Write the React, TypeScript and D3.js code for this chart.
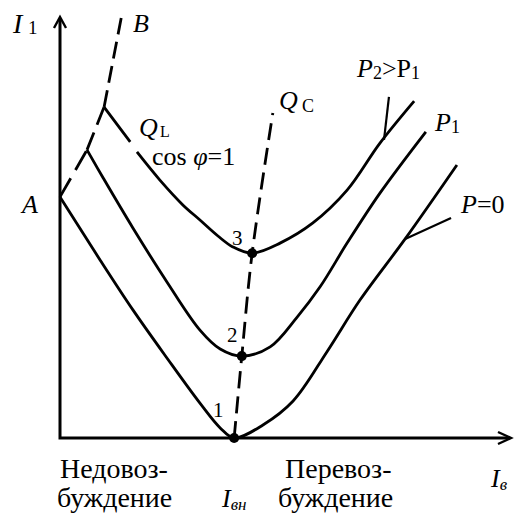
import React from 'react';
import * as d3 from 'd3';

const W = 523;
const H = 525;

// V-curves of a synchronous machine: stator current I1 against field current Iв,
// one curve per active-power level. Units are arbitrary (0..10 on both axes).
const curveP0: ([number, number] | null)[] = [
  [0, 5.74], [0.89, 4.24], [1.62, 3.05], [2.38, 1.9], [3.11, 0.83], [3.56, 0.24], [3.87, 0],
  [4.51, 0.31], [5.18, 0.88], [5.93, 2.05], [6.67, 3.29], [7.67, 4.74], [8.82, 6.5],
];
const curveP1: ([number, number] | null)[] = [
  [0.6, 6.86], [0.96, 6.19], [1.62, 5.0], [2.38, 3.71], [3.11, 2.57], [3.56, 2.12], [4.04, 1.95],
  [4.67, 2.17], [5.27, 2.88], [5.78, 3.6], [6.38, 4.64], [7.11, 5.83], [8.13, 7.29],
];
// null marks the break in the line next to the Q_L / cos φ=1 labels
const curveP2: ([number, number] | null)[] = [
  [0.98, 7.88], [1.56, 7.05], null, [1.71, 6.81], [2.22, 6.14], [2.73, 5.55], [3.11, 5.19],
  [3.51, 4.81], [3.84, 4.55], [4.27, 4.4], [4.89, 4.64], [5.62, 5.12], [6.38, 5.9], [7.11, 7.02],
  [7.87, 8.02],
];

// Boundary A–B (stability limit) and the cos φ = 1 locus through the minima
const limitAB: [number, number][] = [[0, 5.74], [0.6, 6.86], [0.98, 7.88], [1.36, 10.0]];
const unityPF: [number, number][] = [[3.87, 0], [4.04, 1.95], [4.27, 4.4], [4.73, 7.74]];
// minima of the three curves (points 1, 2, 3)
const minima: { label: string; p: [number, number] }[] = [
  { label: '1', p: [3.87, 0] },
  { label: '2', p: [4.04, 1.95] },
  { label: '3', p: [4.27, 4.4] },
];
// leader lines from the curve labels
const leaderP0: [number, number][] = [[7.67, 4.74], [8.69, 5.24]];
const leaderP2: [number, number][] = [[7.2, 7.1], [7.31, 8.12]];

const x = d3.scaleLinear().domain([0, 10]).range([60, 510]);
const y = d3.scaleLinear().domain([0, 10]).range([438, 18]);

const smooth = d3
  .line<[number, number] | null>()
  .defined((d) => d !== null)
  .x((d) => x((d as [number, number])[0]))
  .y((d) => y((d as [number, number])[1]))
  .curve(d3.curveCatmullRom.alpha(0.5));

const straight = d3
  .line<[number, number]>()
  .x((d) => x(d[0]))
  .y((d) => y(d[1]));

// dash pattern stretched so a segment starts and ends with a dash
function fitDash(a: [number, number], b: [number, number], dash = 18, gap = 8) {
  const L = Math.hypot(x(b[0]) - x(a[0]), y(b[1]) - y(a[1]));
  const n = Math.max(1, Math.round((L + gap) / (dash + gap)));
  const s = (L + gap) / (n * (dash + gap));
  return `${dash * s} ${gap * s}`;
}

const serif = "'Liberation Serif', 'DejaVu Serif', serif";
const STROKE = 2.8;

export default function App() {
  const x0 = x(0);
  const yTop = y(10);
  const xEnd = x(10);
  const y0 = y(0);

  return (
    <svg
      width={W}
      height={H}
      style={{ position: 'absolute', left: 0, top: 0, background: '#fff', fontFamily: serif }}
    >
      <rect width={W} height={H} fill="#fff" />
      {/* axes */}
      <path
        d={`M${x0},${yTop} V${y0} H${xEnd}`}
        fill="none"
        stroke="#000"
        strokeWidth={3}
        strokeLinejoin="miter"
      />
      <path d={`M${x0 - 6},${yTop + 10} L${x0},${yTop - 1} L${x0 + 6},${yTop + 10}`} fill="none" stroke="#000" strokeWidth={2.4} />
      <path d={`M${xEnd - 12},${y0 - 6} L${xEnd + 1},${y0} L${xEnd - 12},${y0 + 6}`} fill="none" stroke="#000" strokeWidth={2.4} />

      {/* boundary A–B, dashed segment by segment */}
      {limitAB.slice(1).map((b, i) => {
        const a = limitAB[i];
        return (
          <path
            key={`ab${i}`}
            d={straight([a, b]) as string}
            fill="none"
            stroke="#000"
            strokeWidth={STROKE}
            strokeDasharray={fitDash(a, b)}
          />
        );
      })}

      {/* cos φ = 1 locus */}
      <path d={smooth(unityPF) as string} fill="none" stroke="#000" strokeWidth={STROKE} strokeDasharray="17 8" />

      {/* V-curves */}
      {[curveP0, curveP1, curveP2].map((c, i) => (
        <path key={`c${i}`} d={smooth(c) as string} fill="none" stroke="#000" strokeWidth={STROKE} strokeLinecap="butt" />
      ))}

      {/* leaders */}
      <path d={straight(leaderP0) as string} stroke="#000" strokeWidth={2.2} fill="none" />
      <path d={straight(leaderP2) as string} stroke="#000" strokeWidth={2.2} fill="none" />

      {/* minima */}
      {minima.map((m) => (
        <circle key={m.label} cx={x(m.p[0])} cy={y(m.p[1])} r={5} fill="#000" />
      ))}
      <text x={213} y={417} fontSize={21}>1</text>
      <text x={227} y={342} fontSize={21}>2</text>
      <text x={232} y={245} fontSize={21}>3</text>

      {/* axis labels */}
      <text x={13} y={33} fontSize={28} fontStyle="italic">I</text>
      <text x={28} y={34} fontSize={19}>1</text>
      <text x={133} y={32} fontSize={26} fontStyle="italic">B</text>
      <text x={22} y={213} fontSize={26} fontStyle="italic">A</text>

      <text x={139} y={136} fontSize={26} fontStyle="italic">Q</text>
      <text x={160} y={137} fontSize={16}>L</text>
      <text x={152} y={165} fontSize={26}>
        cos <tspan fontStyle="italic">φ</tspan>=1
      </text>

      <text x={279} y={109} fontSize={26} fontStyle="italic">Q</text>
      <text x={302} y={112} fontSize={18}>C</text>

      <text x={357} y={77} fontSize={26}>
        <tspan fontStyle="italic">P</tspan>
        <tspan fontSize={18} dy={2}>2</tspan>
        <tspan dy={-2}>&gt;P</tspan>
        <tspan fontSize={18} dy={2}>1</tspan>
      </text>
      <text x={435} y={131} fontSize={26}>
        <tspan fontStyle="italic">P</tspan>
        <tspan fontSize={18} dy={2}>1</tspan>
      </text>
      <text x={461} y={213} fontSize={26}>
        <tspan fontStyle="italic">P</tspan>=0
      </text>

      {/* excitation regions */}
      <text x={60} y={478} fontSize={28}>Недовоз-</text>
      <text x={57} y={507} fontSize={28}>буждение</text>
      <text x={285} y={478} fontSize={28}>Перевоз-</text>
      <text x={278} y={507} fontSize={28}>буждение</text>
      <text x={222} y={507} fontSize={26} fontStyle="italic">
        I<tspan fontSize={17} dy={3}>вн</tspan>
      </text>
      <text x={491} y={487} fontSize={26} fontStyle="italic">
        I<tspan fontSize={17} dy={3}>в</tspan>
      </text>
    </svg>
  );
}
